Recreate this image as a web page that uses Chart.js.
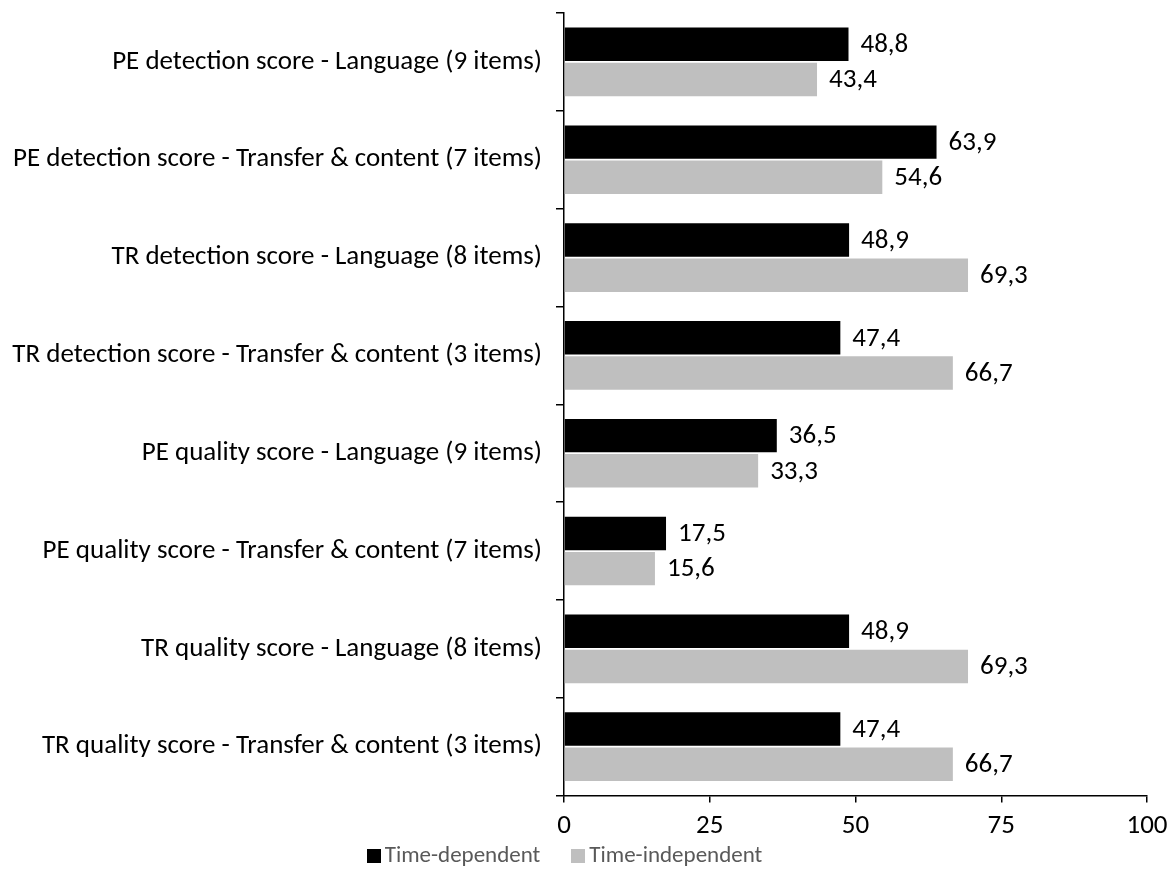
<!DOCTYPE html>
<html>
<head>
<meta charset="utf-8">
<script src="https://cdn.jsdelivr.net/npm/chart.js@4"></script>
<style>
  html, body { margin: 0; padding: 0; background: #fff; }
  #wrap { position: relative; width: 1175px; height: 895px; }
  #legend {
    position: absolute; left: 0; top: 839px; width: 1129px;
    display: flex; justify-content: center; gap: 31px;
    font-family: Carlito, Calibri, 'Open Sans', sans-serif;
    font-size: 23px; line-height: 30px; color: #595959;
  }
  #legend span.box { display: inline-block; width: 14px; height: 14px; margin-right: 4px; vertical-align: -1px; }
</style>
</head>
<body>
<div id="wrap">
  <canvas id="chart"></canvas>
  <div id="legend"></div>
</div>
<script>
const categories = [
  "PE detection score - Language (9 items)",
  "PE detection score - Transfer & content (7 items)",
  "TR detection score - Language (8 items)",
  "TR detection score - Transfer & content (3 items)",
  "PE quality score - Language (9 items)",
  "PE quality score - Transfer & content (7 items)",
  "TR quality score - Language (8 items)",
  "TR quality score - Transfer & content (3 items)"
];
const timeDependent = [48.8, 63.9, 48.9, 47.4, 36.5, 17.5, 48.9, 47.4];
const timeIndependent = [43.4, 54.6, 69.3, 66.7, 33.3, 15.6, 69.3, 66.7];
const seriesNames = ["Time-dependent", "Time-independent"];
const seriesColors = ["#000000", "#bfbfbf"];

const fontFamily = "Carlito, Calibri, 'Open Sans', sans-serif";

// value labels to the right of each bar, comma as decimal separator
const barLabels = {
  id: "barLabels",
  afterDatasetsDraw(chart) {
    const ctx = chart.ctx;
    ctx.save();
    ctx.font = "27px " + fontFamily;
    ctx.fillStyle = "#000";
    ctx.textBaseline = "middle";
    chart.data.datasets.forEach((ds, i) => {
      chart.getDatasetMeta(i).data.forEach((bar, j) => {
        const txt = ds.data[j].toFixed(1).replace(".", ",");
        ctx.fillText(txt, bar.x + 12, bar.y + 1);
      });
    });
    ctx.restore();
  }
};

const chart = new Chart(document.getElementById("chart"), {
  type: "bar",
  data: {
    labels: categories,
    datasets: [
      { label: seriesNames[0], data: timeDependent, backgroundColor: seriesColors[0],
        categoryPercentage: 0.72, barPercentage: 0.95 },
      { label: seriesNames[1], data: timeIndependent, backgroundColor: seriesColors[1],
        categoryPercentage: 0.72, barPercentage: 0.95 }
    ]
  },
  options: {
    indexAxis: "y",
    responsive: true,
    maintainAspectRatio: false,
    animation: false,
    layout: { padding: { left: 0, right: 28, top: 13, bottom: 46 } },
    plugins: {
      legend: { display: false },
      tooltip: { enabled: false }
    },
    scales: {
      x: {
        min: 0, max: 100,
        ticks: { stepSize: 25, color: "#000", padding: 7, font: { family: fontFamily, size: 27 } },
        grid: { drawOnChartArea: false, drawTicks: true, tickLength: 7, color: "#000", lineWidth: 1.5 },
        border: { display: true, color: "#000", width: 1.5 }
      },
      y: {
        afterFit(scale) {
          scale.width = 564;
          scale.paddingTop = 0;
          scale.paddingBottom = 0;
        },
        ticks: { color: "#000", padding: 14, font: { family: fontFamily, size: 27 } },
        grid: { drawOnChartArea: false, drawTicks: true, tickLength: 8, color: "#000", lineWidth: 1.5, offset: true },
        border: { display: true, color: "#000", width: 1.5 }
      }
    }
  },
  plugins: [barLabels]
});

// legend built from the datasets
const legendDiv = document.getElementById("legend");
chart.data.datasets.forEach(ds => {
  const item = document.createElement("div");
  item.innerHTML = `<span class="box" style="background:${ds.backgroundColor}"></span>${ds.label}`;
  legendDiv.appendChild(item);
});
</script>
</body>
</html>
